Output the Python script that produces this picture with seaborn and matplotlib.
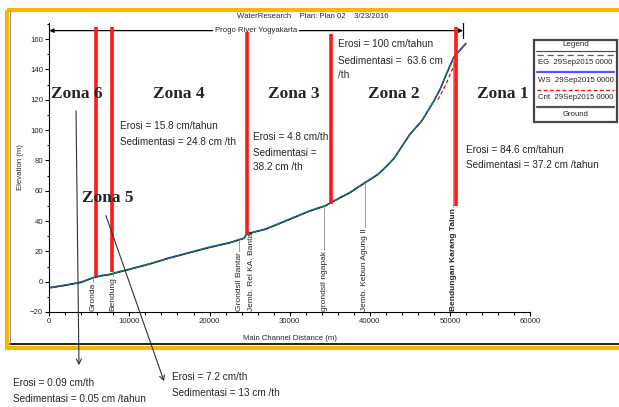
import numpy as np
import pandas as pd
import seaborn as sns
import matplotlib.pyplot as plt
from matplotlib.patches import Rectangle, FancyArrowPatch
from matplotlib.ticker import MultipleLocator

# ground profile along the main channel (m, m)
distance = [0, 2000, 4000, 5500, 6500, 7500, 8500, 10000, 12500, 15000, 17500,
            20000, 22500, 24300, 24600, 25500, 27000, 30000, 32500, 34500, 35500,
            37500, 39500, 41000, 42000, 43000, 44000, 45000, 46500, 48000, 48800,
            49500, 50500, 51500, 52000]
elevation = [-4.2, -2.5, -0.5, 2.5, 3.8, 4.5, 6.0, 8.0, 11.5, 15.5, 19.0,
             22.5, 25.5, 28.5, 31.0, 32.5, 34.5, 41.0, 46.5, 50.0, 53.0,
             58.5, 65.5, 70.5, 75.5, 81.0, 89.0, 97.0, 106.0, 119.0, 127.0,
             136.0, 148.0, 154.0, 157.0]
crit_distance = [48500, 49500, 50300, 51000]
crit_elevation = [120, 130, 140, 147]

landmark_names = ["Gronda", "Bendung", "Grondsil Bantar", "Jemb. Rel KA. Bantar",
                  "grondsil ngapak", "Jemb. Kebun Agung II", "Bendungan Karang Talun"]
landmark_dist = [5450, 7950, 23700, 25300, 34300, 39400, 50400]

zone_bounds = [5830, 7790, 24640, 35170, 50740]
zone_top = [168, 168, 164.5, 163.5, 168]
zone_bottom = [4, 6.4, 31.5, 51.3, 50]

legend_labels = ["EG  29Sep2015 0000", "WS  29Sep2015 0000", "Crit  29Sep2015 0000", "Ground"]

W, H = 619, 407
sns.set_theme(style="white")
plt.rcParams["font.family"] = ["Liberation Sans", "DejaVu Sans"]

fig = plt.figure(figsize=(W / 100, H / 100), dpi=100)
fig.patch.set_facecolor("white")
ax = fig.add_axes([49.3 / W, 1 - 312 / H, (530 - 49.3) / W, (312 - 23) / H])
ax.set_facecolor("none")

sns.lineplot(x=distance, y=elevation, ax=ax, color="black", lw=0.9, estimator=None)
sns.lineplot(x=np.array(distance), y=np.array(elevation) + 0.4, ax=ax, color="#2b2bff",
             lw=0.9, estimator=None)
sns.lineplot(x=crit_distance, y=crit_elevation, ax=ax, color="red", lw=0.9,
             estimator=None, linestyle=(0, (3, 2)))
sns.lineplot(x=np.array(distance), y=np.array(elevation) + 0.2, ax=ax, color="#1a8a1a",
             lw=0.9, estimator=None, linestyle=(0, (5, 1.5)))

ax.set_xlim(0, 60000)
ax.set_ylim(-20, (312 - 23) / 1.516 - 20)
ax.xaxis.set_major_locator(MultipleLocator(10000))
ax.xaxis.set_minor_locator(MultipleLocator(2000))
ax.yaxis.set_major_locator(MultipleLocator(20))
ax.yaxis.set_minor_locator(MultipleLocator(10))
ax.tick_params(which="both", direction="out", color="black", width=0.8,
               labelsize=5.6, pad=1.5, bottom=True, left=True)
ax.tick_params(which="major", length=3)
ax.tick_params(which="minor", length=1.8)
sns.despine(ax=ax)
for s in ["left", "bottom"]:
    ax.spines[s].set_color("black")
    ax.spines[s].set_linewidth(0.8)
ax.set_xlabel("Main Channel Distance (m)", fontsize=5.6, labelpad=7)
ax.set_ylabel("Elevation (m)", fontsize=5.6, labelpad=4)

# top reach arrow
ax.annotate("", xy=(0, 165.6), xytext=(51650, 165.6),
            arrowprops=dict(arrowstyle="<|-|>", color="black", lw=0.9,
                            mutation_scale=6, shrinkA=0, shrinkB=0))
ax.plot([51650, 51650], [161, 171], color="black", lw=0.9)
ax.text(25800, 165.6, "Progo River Yogyakarta", fontsize=5.6, ha="center", va="center",
        bbox=dict(facecolor="white", edgecolor="none", pad=1))

# landmark labels
land_texts = []
for name, d in zip(landmark_names, landmark_dist):
    weight = "bold" if name.startswith("Bendungan") else "normal"
    t = ax.text(d, -19.3, name, rotation=90, fontsize=6, ha="center", va="bottom",
                fontweight=weight)
    land_texts.append(t)

fig.canvas.draw()
inv = ax.transData.inverted()
for t, d in zip(land_texts, landmark_dist):
    bb = t.get_window_extent()
    top = inv.transform((0, bb.y1 + 1))[1]
    g = np.interp(d, distance, elevation)
    if g > top:
        ax.plot([d, d], [top, g], color="#999999", lw=0.7)

# zone boundaries
ax.vlines(zone_bounds, zone_bottom, zone_top, color="#ff1a1a", lw=2.6, zorder=4)

# overlay in pixel coordinates
ov = fig.add_axes([0, 0, 1, 1], zorder=5)
ov.set_xlim(0, W)
ov.set_ylim(H, 0)
ov.axis("off")
ov.patch.set_alpha(0)

ov.add_patch(Rectangle((6.5, 9.5), 640, 338.5, fill=False, edgecolor="#f5b800", lw=3))
ov.plot([9.5, 619], [343.5, 343.5], color="black", lw=1.2)
ov.plot([9.5, 9.5], [11, 343.5], color="#777777", lw=0.6)

ov.text(313, 17, "WaterResearch    Plan: Plan 02    3/23/2016", fontsize=5.6,
        ha="center", va="center")

zone_pos = [(51, 94), (82, 198), (153, 94), (268, 94), (368, 94), (477, 94)]
zone_names = ["Zona 6", "Zona 5", "Zona 4", "Zona 3", "Zona 2", "Zona 1"]
for name, (x, y) in zip(zone_names, zone_pos):
    ov.text(x, y, name, fontsize=12.5, fontweight="bold", family="Liberation Serif",
            ha="left", va="center")

notes = [
    (338, [44, 61, 75], ["Erosi = 100 cm/tahun", "Sedimentasi =  63.6 cm", "/th"]),
    (120, [126, 142], ["Erosi = 15.8 cm/tahun", "Sedimentasi = 24.8 cm /th"]),
    (253, [137, 153, 167], ["Erosi = 4.8 cm/th", "Sedimentasi =", "38.2 cm /th"]),
    (466, [150, 165], ["Erosi = 84.6 cm/tahun", "Sedimentasi = 37.2 cm /tahun"]),
    (13, [383, 399], ["Erosi = 0.09 cm/th", "Sedimentasi = 0.05 cm /tahun"]),
    (172, [377, 393], ["Erosi = 7.2 cm/th", "Sedimentasi = 13 cm /th"]),
]
for x, ys, lines in notes:
    for y, line in zip(ys, lines):
        ov.text(x, y, line, fontsize=7.2, ha="left", va="center")

for start, end in [((76, 108), (79, 368)), ((105, 213), (165, 384))]:
    ov.add_patch(FancyArrowPatch(start, end, arrowstyle="->", mutation_scale=9,
                                 color="#333333", lw=0.8))

# legend box
ov.add_patch(Rectangle((534, 40), 83, 82, fill=False, edgecolor="#444444", lw=1.6))
ov.plot([536, 615], [50.5, 50.5], color="#444444", lw=0.8)
ov.text(575.5, 45, "Legend", fontsize=5.8, ha="center", va="center")
styles = [("#1a8a1a", (0, (5, 3)), 0.9), ("#5555ff", "-", 1.6),
          ("red", (0, (3, 2)), 0.9), ("#555555", "-", 1.6)]
for i, (lab, (c, ls, lw)) in enumerate(zip(legend_labels, styles)):
    ly = 55 + i * 17.3
    ov.plot([537, 614], [ly, ly], color=c, linestyle=ls, lw=lw)
    ov.text(575.5, ly + 8, lab, fontsize=5.6, ha="center", va="center")

fig.savefig("out.png", dpi=100)
